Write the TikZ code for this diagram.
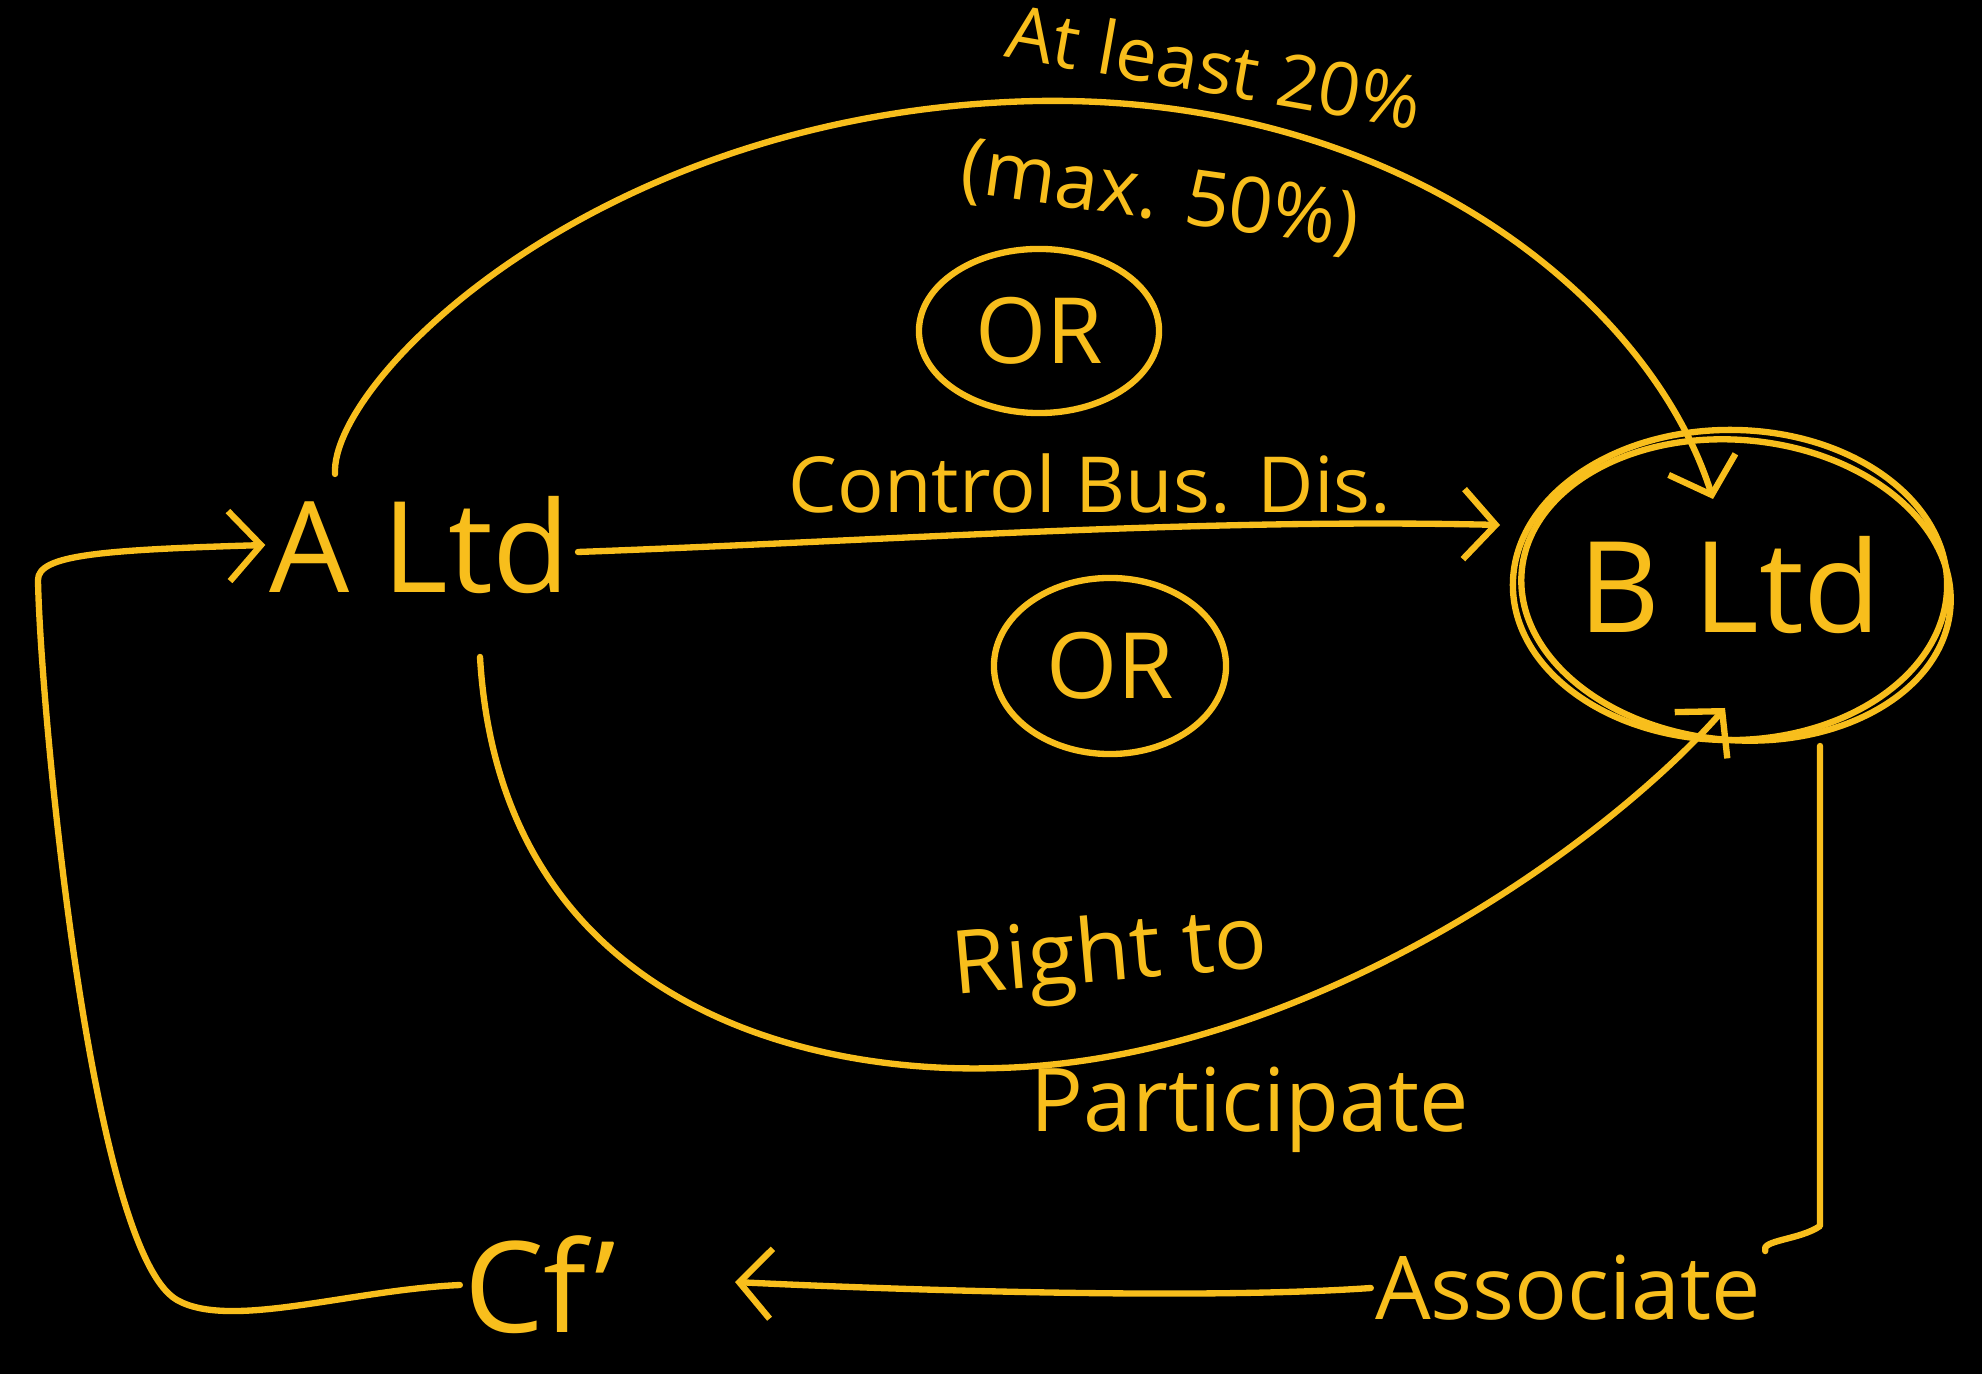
\documentclass[tikz,border=0pt]{standalone}
\usepackage{fontspec}
\setmainfont{Open Sans}
\usetikzlibrary{arrows.meta,shapes.geometric}
\definecolor{ink}{RGB}{248,190,28}
\begin{document}
\begin{tikzpicture}[x=0.01cm,y=-0.01cm,
  pen/.style={draw=ink,line width=1.8pt,line cap=round,line join=round},
  tip/.style={-{Straight Barb[length=3.2mm,width=7mm,line width=1.8pt]}},
  lbl/.style={text=ink,inner sep=1pt},
  orbox/.style={pen,ellipse,text=ink,font=\fontsize{26}{30}\selectfont,minimum width=2.4cm,minimum height=1.64cm,inner sep=0pt}]
\fill[black] (0,0) rectangle (1982,1374);
\useasboundingbox (0,0) rectangle (1982,1374);
% nodes
\node[lbl,font=\fontsize{36}{40}\selectfont] (A) at (420,545) {A Ltd};
\node[pen,ellipse,minimum width=4.34cm,minimum height=3.1cm,inner sep=0pt,text=ink,font=\fontsize{36}{40}\selectfont] (B) at (1730,585) {B Ltd};
\node[pen,ellipse,rotate=-5,minimum width=4.3cm,minimum height=3.0cm,inner sep=0pt] (B2) at (1736,590) {};
\node[orbox] (OR1) at (1039,331) {OR};
\node[orbox,minimum width=2.32cm,minimum height=1.76cm] (OR2) at (1110,666) {OR};
\node[lbl,font=\fontsize{36}{40}\selectfont] (C) at (540,1285) {Cf'};
\node[lbl,font=\fontsize{25}{28}\selectfont] (assoc) at (1568,1288) {Associate};
% labels
\node[lbl,font=\fontsize{21}{25}\selectfont,rotate=-10] (l1) at (1215,66) {At least 20\%};
\node[lbl,font=\fontsize{22}{26}\selectfont,rotate=-8] (l2) at (1160,198) {(max. 50\%)};
\node[lbl,font=\fontsize{22}{26}\selectfont] (l3) at (1090,484) {Control Bus. Dis.};
\node[lbl,font=\fontsize{25}{28}\selectfont,rotate=5] (l4) at (1110,958) {Right to};
\node[lbl,font=\fontsize{25}{28}\selectfont] (l5) at (1250,1110) {Participate};
% connectors
\coordinate (Atop) at (335,474);
\coordinate (Btop) at (1713,499);
\draw[pen,tip] (Atop) .. controls (330,380) and (600,110) .. (1037,101)
   .. controls (1400,95) and (1650,300) .. (Btop);
\coordinate (Aright) at (578,552);
\coordinate (Bmid) at (1500,525);
\draw[pen,tip] (Aright) .. controls (900,540) and (1200,518) .. (Bmid);
\coordinate (Abot) at (480,657);
\coordinate (Bbot) at (1725,708);
\draw[pen,tip] (Abot) .. controls (500,1000) and (800,1075) .. (999,1068)
   .. controls (1300,1060) and (1600,850) .. (Bbot);
\coordinate (Bright) at (1820,746);
\draw[pen] (Bright) -- (1820,1226) .. controls (1800,1240) and (1760,1240) .. (assoc.north east);
\coordinate (Ctip) at (735,1282);
\draw[pen,tip] (assoc.west) .. controls (1200,1300) and (900,1290) .. (Ctip);
\draw[pen,tip] (C.west) .. controls (350,1290) and (230,1330) .. (177,1300)
   .. controls (90,1250) and (40,700) .. (38,580)
   .. controls (38,555) and (100,550) .. (A.west);
\end{tikzpicture}
\end{document}
